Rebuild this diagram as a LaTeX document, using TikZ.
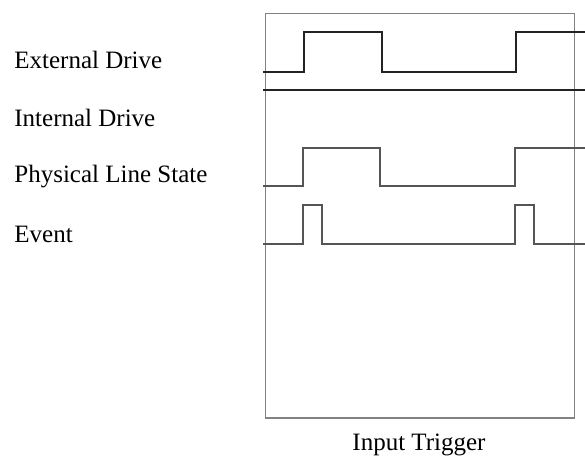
\documentclass[tikz,border=0pt]{standalone}
\usepackage{fontspec}
\setmainfont{Liberation Serif}
\usetikzlibrary{positioning}
\definecolor{drivegray}{RGB}{35,35,35}
\definecolor{tracegray}{RGB}{85,85,85}
\definecolor{framegray}{RGB}{130,130,130}
\tikzset{
  trace/.style={draw=tracegray,line width=1.1pt,line join=miter},
  drive/.style={trace,draw=drivegray},
  frame/.style={draw=framegray,line width=0.8pt},
  sigtext/.style={font=\fontsize{12.5}{14}\selectfont,anchor=west,inner sep=0pt},
  caption/.style={font=\fontsize{12.5}{14}\selectfont,inner sep=0pt}
}

\begin{document}
\begin{tikzpicture}[x=0.5pt,y=-0.5pt]
  \useasboundingbox (0,0) rectangle (585,458);

  % Signal names
  \node[sigtext] (extlabel) at (14,60) {External Drive};
  \node[sigtext] (intlabel) at (14,118) {Internal Drive};
  \node[sigtext] (linelabel) at (14,177) {Physical Line State};
  \node[sigtext] (eventlabel) at (14,234) {Event};

  % Trigger window
  \draw[frame] (265.5,13.5) rectangle (574.5,418);
  \node[caption] (trigger) at (419,445) {Input Trigger};

  % External drive
  \draw[drive] (263,72) -- (304,72) -- (304,32) -- (382,32) -- (382,72)
    -- (516,72) -- (516,32) -- (585,32);

  % Internal drive
  \draw[drive] (263,90) -- (585,90);

  % Physical line state
  \draw[trace] (263,186) -- (303,186) -- (303,148) -- (380,148) -- (380,186)
    -- (515,186) -- (515,148) -- (585,148);

  % Event pulses
  \draw[trace] (263,244) -- (303,244) -- (303,205) -- (322,205) -- (322,244)
    -- (515,244) -- (515,205) -- (534,205) -- (534,244) -- (585,244);
\end{tikzpicture}
\end{document}
